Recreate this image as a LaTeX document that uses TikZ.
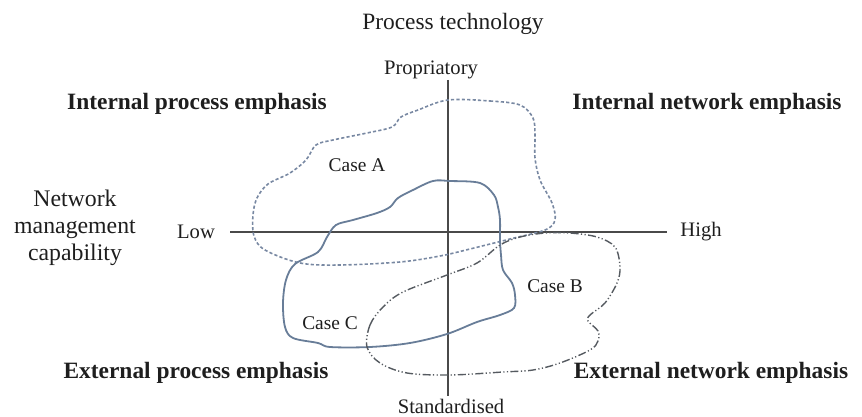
\documentclass[tikz,border=0pt]{standalone}
\usepackage{fontspec}
\setmainfont{Liberation Serif}
\definecolor{axiscol}{HTML}{4A4A4A}
\definecolor{casea}{HTML}{7888A2}
\definecolor{casec}{HTML}{687D98}
\definecolor{caseb}{HTML}{555A60}
\definecolor{txt}{HTML}{1E1E1E}
\tikzset{
  lbl/.style={inner sep=0pt, text=txt, font=\fontsize{10.3}{12}\selectfont},
  big/.style={inner sep=0pt, text=txt, font=\fontsize{11.7}{13.5}\selectfont},
  head/.style={inner sep=0pt, text=txt, font=\fontsize{11.7}{13.5}\selectfont\bfseries},
  caselbl/.style={inner sep=0pt, text=txt, font=\fontsize{9.7}{12}\selectfont},
  axisline/.style={draw=axiscol, line width=0.75pt},
  blobA/.style={draw=casea, line width=0.8pt, dash pattern=on 1.6pt off 1.1pt},
  blobB/.style={draw=caseb, line width=0.7pt, dash pattern=on 4pt off 1.2pt on 0.6pt off 1.2pt on 0.6pt off 1.2pt},
  blobC/.style={draw=casec, line width=0.9pt},
}
\begin{document}
\begin{tikzpicture}[x=0.5pt,y=-0.5pt]
\useasboundingbox (0,0) rectangle (862,417);
% axes
\coordinate (vtop) at (448,80);
\coordinate (vbot) at (448,396);
\coordinate (hl) at (230,232);
\coordinate (hr) at (667,232);
\draw[axisline] (vtop) -- (vbot);
\draw[axisline] (hl) -- (hr);
% Case A (dotted)
\draw[blobA] plot[smooth cycle, tension=0.55] coordinates {
(448,100) (490,101) (520,105) (533,118) (535,135) (535,158) (540,180)
(552,203) (555,220) (545,230) (510,239) (470,249) (440,256) (400,262)
(340,265) (300,263) (265,250) (254,236) (253,215) (257,198) (268,184)
(290,173) (306,160) (316,145) (333,140) (367,133) (392,127) (401,117)
(418,110)};
% Case C (solid)
\draw[blobC] plot[smooth cycle, tension=0.55] coordinates {
(433,181) (450,181) (480,183) (494,195) (498,207) (500,220) (500,240)
(501,255) (503,270) (512,283) (515,295) (514,308) (500,315) (477,322)
(447,334) (410,343) (370,347) (330,347) (318,343) (293,338) (285,327)
(283,303) (286,280) (295,264) (318,252) (327,237) (336,225) (353,220)
(377,213) (390,207) (398,198) (413,190)};
% Case B (dash dot dot)
\draw[blobB] plot[smooth cycle, tension=0.55] coordinates {
(367,347) (370,325) (383,307) (403,292) (447,275) (477,263) (500,245)
(520,237) (545,233) (570,233) (597,237) (615,247) (620,267) (617,283)
(605,303) (590,315) (588,321) (598,331) (598,341) (590,350) (560,363)
(533,370) (503,372) (450,375) (407,373) (380,363)};
% labels
\node[big] (pt) at (453,24) {Process technology};
\node[lbl] (prop) at (431,70) {Propriatory};
\node[lbl] (std) at (451,406) {Standardised};
\node[lbl] (low) at (196,232) {Low};
\node[lbl] (high) at (701,232) {High};
\node[big, align=center, font=\fontsize{11.9}{13.5}\selectfont] (nmc) at (75,228) {Network\\management\\capability};
\node[head] (ipe) at (197,104) {Internal process emphasis};
\node[head] (ine) at (707,104) {Internal network emphasis};
\node[head] (epe) at (196,373) {External process emphasis};
\node[head] (ene) at (711,373) {External network emphasis};
\node[caselbl] (ca) at (357,165) {Case A};
\node[caselbl] (cb) at (555,286) {Case B};
\node[caselbl] (cc) at (330,323) {Case C};
\end{tikzpicture}
\end{document}
